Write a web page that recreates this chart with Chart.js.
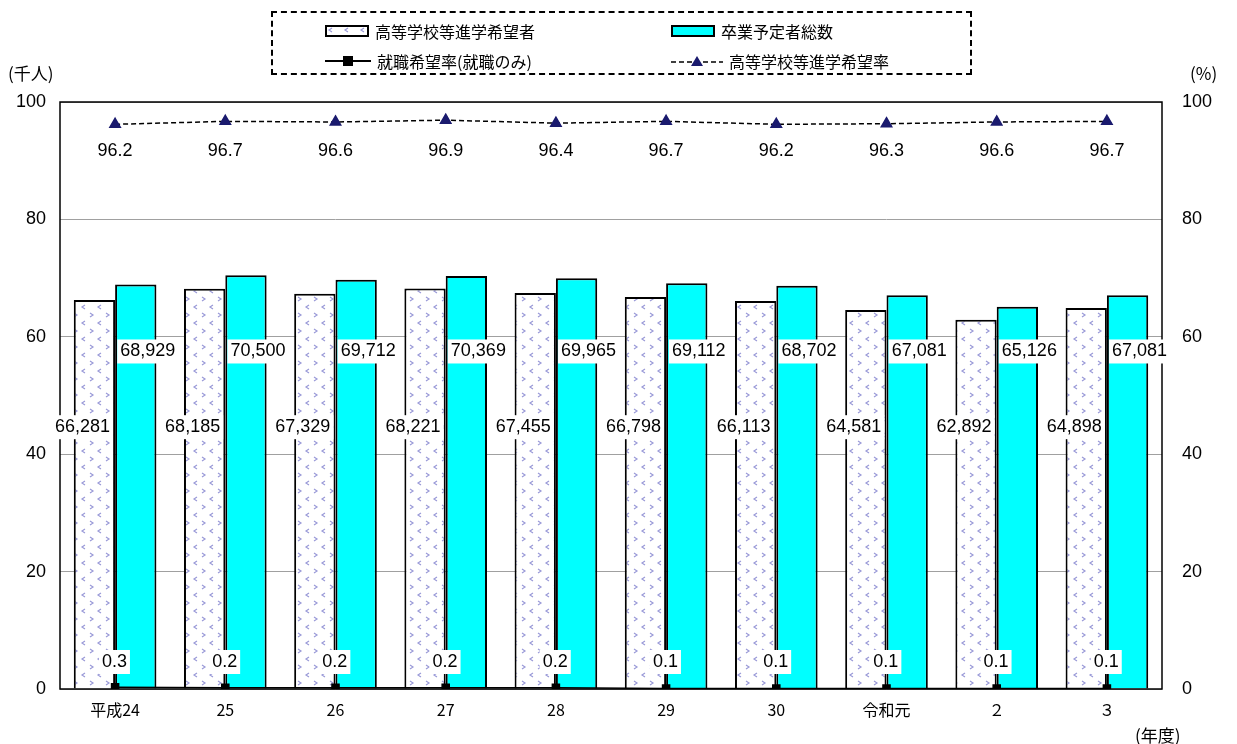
<!DOCTYPE html>
<html><head><meta charset="utf-8">
<script src="https://cdn.jsdelivr.net/npm/chart.js@4.4.0/dist/chart.umd.min.js"></script>
<style>
body{margin:0;background:#fff;font-family:"Noto Sans CJK JP",sans-serif;}
#wrap{position:relative;width:1237px;height:744px;}
.t{position:absolute;font-size:17px;color:#000;}
#legend{position:absolute;left:271px;top:11px;width:701px;height:64px;border:2px dashed #000;box-sizing:border-box;font-size:16px;}
.li{position:absolute;display:flex;align-items:center;}
.sw{display:inline-block;width:40px;height:8px;border:2px solid #000;margin-right:6px;}
</style></head><body>
<div id="wrap">
<canvas id="c" width="1237" height="744"></canvas>
<div class="t" style="left:8px;top:60px">(千人)</div>
<div class="t" style="left:1190px;top:60px">(%)</div>
<div class="t" style="left:1135px;top:722px">(年度)</div>
<div id="legend">
 <div class="li" style="left:52px;top:6px"><span class="sw" id="patsw" style="background:#fff"></span>高等学校等進学希望者</div>
 <div class="li" style="left:398px;top:6px"><span class="sw" style="background:#00ffff"></span>卒業予定者総数</div>
 <div class="li" style="left:52px;top:36px"><svg width="46" height="14" style="margin-right:6px"><line x1="0" y1="7" x2="46" y2="7" stroke="#000" stroke-width="2"/><rect x="18" y="2" width="10" height="10" fill="#000"/></svg>就職希望率(就職のみ)</div>
 <div class="li" style="left:398px;top:36px"><svg width="52" height="14" style="margin-right:6px"><line x1="0" y1="8" x2="52" y2="8" stroke="#000" stroke-width="1.5" stroke-dasharray="5,3"/><polygon points="26,2 32,12 20,12" fill="#1a1a6e"/></svg>高等学校等進学希望率</div>
</div>
</div>
<script>
const years = ['平成24','25','26','27','28','29','30','令和元','２','３'];
const advanceHopefuls = [66281,68185,67329,68221,67455,66798,66113,64581,62892,64898];
const graduates = [68929,70500,69712,70369,69965,69112,68702,67081,65126,67081];
const jobRate = [0.3,0.2,0.2,0.2,0.2,0.1,0.1,0.1,0.1,0.1];
const advanceRate = [96.2,96.7,96.6,96.9,96.4,96.7,96.2,96.3,96.6,96.7];

function makePattern() {
  const p = document.createElement('canvas');
  p.width = 16; p.height = 16;
  const g = p.getContext('2d');
  g.fillStyle = '#fff'; g.fillRect(0,0,16,16);
  g.strokeStyle = '#9a9ad8'; g.lineWidth = 1.2;
  g.beginPath(); g.moveTo(5,1); g.lineTo(2,3); g.lineTo(5,5); g.stroke();
  g.beginPath(); g.moveTo(10,9); g.lineTo(13,11); g.lineTo(10,13); g.stroke();
  return p;
}
const patCanvas = makePattern();
document.getElementById('patsw').style.background = 'url(' + patCanvas.toDataURL() + ')';
const pattern = document.getElementById('c').getContext('2d').createPattern(patCanvas, 'repeat');

const fmt = v => v.toLocaleString('en-US');

const labelPlugin = {
  id: 'labels',
  afterDatasetsDraw(chart) {
    const ctx = chart.ctx, yL = chart.scales.y, yR = chart.scales.y2;
    const area = chart.chartArea;
    ctx.save();
    ctx.strokeStyle = '#000'; ctx.lineWidth = 1.5;
    ctx.strokeRect(area.left, area.top, area.right - area.left, area.bottom - area.top);
    ctx.font = '18px "Liberation Sans", Arial, sans-serif';
    ctx.textAlign = 'center'; ctx.textBaseline = 'middle';
    function box(txt, x, y) {
      const w = ctx.measureText(txt).width + 6;
      ctx.fillStyle = '#fff'; ctx.fillRect(x - w/2, y - 12, w, 24);
      ctx.fillStyle = '#000'; ctx.fillText(txt, x, y);
    }
    const m0 = chart.getDatasetMeta(0), m1 = chart.getDatasetMeta(1), m3 = chart.getDatasetMeta(3);
    years.forEach((_, i) => {
      box(fmt(advanceHopefuls[i]), m0.data[i].x - 12, yL.getPixelForValue(44.6));
      box(fmt(graduates[i]), m1.data[i].x + 12, yL.getPixelForValue(57.5));
      box(jobRate[i].toFixed(1), m0.data[i].x + 20, yR.getPixelForValue(4.6));
      ctx.fillStyle = '#000';
      ctx.fillText(advanceRate[i].toFixed(1), m3.data[i].x, yR.getPixelForValue(91.7));
    });
    ctx.restore();
  }
};

new Chart(document.getElementById('c'), {
  type: 'bar',
  data: {
    labels: years,
    datasets: [
      { label: '高等学校等進学希望者', data: advanceHopefuls.map(v => v / 1000), backgroundColor: pattern,
        borderColor: '#000', borderWidth: 2, yAxisID: 'y', order: 2 },
      { label: '卒業予定者総数', data: graduates.map(v => v / 1000), backgroundColor: '#00ffff',
        borderColor: '#000', borderWidth: 2, yAxisID: 'y', order: 2 },
      { type: 'line', label: '就職希望率(就職のみ)', data: jobRate, yAxisID: 'y2', borderColor: '#000',
        borderWidth: 1.5, pointStyle: 'rect', pointRadius: 5, pointBackgroundColor: '#000', pointBorderColor: '#000', order: 1 },
      { type: 'line', label: '高等学校等進学希望率', data: advanceRate, yAxisID: 'y2', borderColor: '#000',
        borderWidth: 1.5, borderDash: [5, 3], pointStyle: 'triangle', pointRadius: 6,
        pointBackgroundColor: '#1a1a6e', pointBorderColor: '#1a1a6e', order: 1 }
    ]
  },
  options: {
    responsive: false,
    animation: false,
    layout: { padding: { top: 102, left: 0, right: 0, bottom: 0 } },
    datasets: { bar: { categoryPercentage: 0.75, barPercentage: 1 } },
    plugins: { legend: { display: false }, tooltip: { enabled: false } },
    scales: {
      x: {
        grid: { display: false }, border: { display: false },
        ticks: { color: '#000', font: { size: 16, family: '"Noto Sans CJK JP"' }, maxRotation: 0 },
        afterFit(s) { s.height = 55; }
      },
      y: {
        position: 'left', min: 0, max: 100,
        ticks: { stepSize: 20, color: '#000', font: { size: 18, family: '"Liberation Sans"' }, padding: 14 },
        grid: { color: '#a0a0a0', drawTicks: false }, border: { display: false },
        afterFit(s) { s.width = 60; }
      },
      y2: {
        position: 'right', min: 0, max: 100,
        ticks: { stepSize: 20, color: '#000', font: { size: 18, family: '"Liberation Sans"' }, padding: 20 },
        grid: { display: false, drawTicks: false }, border: { display: false },
        afterFit(s) { s.width = 75; }
      }
    }
  },
  plugins: [labelPlugin]
});
</script>
</body></html>
